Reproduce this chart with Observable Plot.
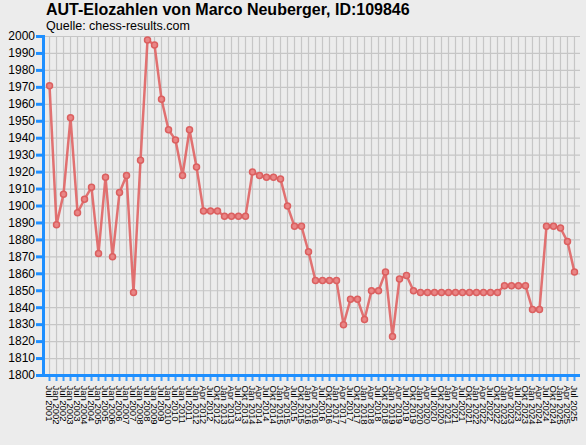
<!DOCTYPE html>
<html>
<head>
<meta charset="utf-8">
<script src="https://cdn.jsdelivr.net/npm/d3@7"></script>
<script src="https://cdn.jsdelivr.net/npm/@observablehq/plot@0.6"></script>
<style>
  html, body { margin: 0; padding: 0; background: #ececec; width: 586px; height: 445px; overflow: hidden; }
  #head { height: 27px; position: relative; font-family: "Liberation Sans", Arial, sans-serif; color: #000; }
  #title { position: absolute; left: 46px; top: 1px; font-weight: bold; font-size: 16px; white-space: nowrap; }
  #sub { position: absolute; left: 46px; top: 19px; font-size: 12.5px; white-space: nowrap; z-index: 1; }
  svg { display: block; }
</style>
</head>
<body>
<div id="head">
  <div id="title">AUT-Elozahlen von Marco Neuberger, ID:109846</div>
  <div id="sub">Quelle: chess-results.com</div>
</div>
<div id="chart"></div>
<script>
const labels = [
  "Jul 2001","Jan 2002","Jul 2002","Jan 2003","Jul 2003","Jan 2004","Jul 2004","Jan 2005",
  "Jul 2005","Jan 2006","Jul 2006","Jan 2007","Jul 2007","Jan 2008","Jul 2008","Jan 2009",
  "Jul 2009","Jan 2010","Jul 2010","Jan 2011","Jul 2011","Jan 2012",
  "Apr 2012","Jul 2012","Okt 2012",
  "Jan 2013","Apr 2013","Jul 2013","Okt 2013",
  "Jan 2014","Apr 2014","Jul 2014","Okt 2014",
  "Jan 2015","Apr 2015","Jul 2015","Okt 2015",
  "Jan 2016","Apr 2016","Jul 2016","Okt 2016",
  "Jan 2017","Apr 2017","Jul 2017","Okt 2017",
  "Jan 2018","Apr 2018","Jul 2018","Okt 2018",
  "Jan 2019","Apr 2019","Jul 2019","Okt 2019",
  "Jan 2020","Apr 2020","Jul 2020","Okt 2020",
  "Jan 2021","Apr 2021","Jul 2021","Okt 2021",
  "Jan 2022","Apr 2022","Jul 2022","Okt 2022",
  "Jan 2023","Apr 2023","Jul 2023","Okt 2023",
  "Jan 2024","Apr 2024","Jul 2024","Okt 2024",
  "Jan 2025","Apr 2025","Jul 2025"
];
const elo = [
  1971,1889,1907,1952,1896,1904,1911,1872,1917,1870,
  1908,1918,1849,1927,1998,1995,1963,1945,1939,1918,
  1945,1923,1897,1897,1897,1894,1894,1894,1894,1920,
  1918,1917,1917,1916,1900,1888,1888,1873,1856,1856,
  1856,1856,1830,1845,1845,1833,1850,1850,1861,1823,
  1857,1859,1850,1849,1849,1849,1849,1849,1849,1849,
  1849,1849,1849,1849,1849,1853,1853,1853,1853,1839,
  1839,1888,1888,1887,1879,1861
];
const yTicks = d3.range(1800, 2001, 10);

const data = labels.map((l, i) => ({label: l, elo: elo[i]}));
const blue = "#1e8fff";
const red = "#e06464";

const chart = Plot.plot({
  width: 586,
  height: 418,
  marginTop: 9,
  marginBottom: 70,
  marginLeft: 43,
  marginRight: 6,
  style: {background: "#ececec", color: "#000", fontFamily: "'Liberation Sans', Arial, sans-serif"},
  x: {type: "point", domain: labels, padding: 0.86, label: null},
  y: {domain: [1800, 2000], label: null},
  marks: [
    Plot.gridX({stroke: "#c6c6c6", strokeOpacity: 1, strokeWidth: 1.2}),
    Plot.gridY(yTicks, {stroke: "#c6c6c6", strokeOpacity: 1, strokeWidth: 1.2}),
    Plot.axisY(yTicks, {tickSize: 7, tickPadding: 1.5, tickFormat: d => String(d), stroke: blue, strokeWidth: 3, fontSize: 12, label: null}),
    Plot.axisX({tickRotate: 90, tickSize: 6, tickPadding: 4, stroke: blue, strokeWidth: 2, strokeOpacity: 0.85, fontSize: 9.5, label: null}),
    Plot.ruleY([1800], {stroke: blue, strokeWidth: 3}),
    Plot.frame({anchor: "left", stroke: blue, strokeWidth: 3}),
    Plot.line(data, {x: "label", y: "elo", stroke: red, strokeWidth: 2.5, strokeOpacity: 0.9}),
    Plot.dot(data, {x: "label", y: "elo", r: 3, fill: "#e98585", stroke: "#db5f5f", strokeWidth: 1.5})
  ]
});
document.getElementById("chart").appendChild(chart);
</script>
</body>
</html>
